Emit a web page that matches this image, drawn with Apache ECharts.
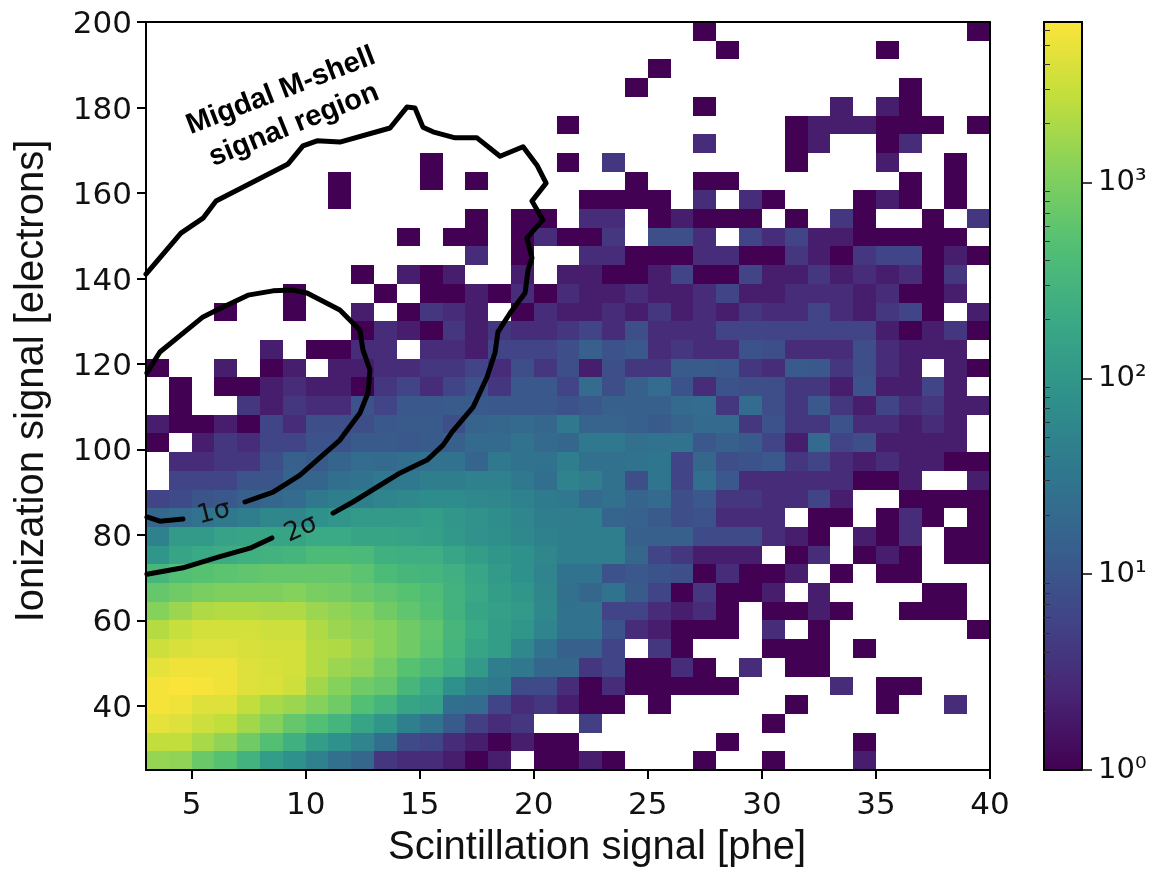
<!DOCTYPE html>
<html>
<head>
<meta charset="utf-8">
<style>html,body{margin:0;padding:0;background:#fff}#c{width:1159px;height:869px}</style>
<script src="https://cdn.jsdelivr.net/npm/echarts@6/dist/echarts.min.js"></script>
</head>
<body>
<div id="c"></div>
<script>
// counts per cell; row00 is the top row (y just under 200), 0 = empty cell
const row00=[0,0,0,0,0,0,0,0,0,0, 0,0,0,0,0,0,0,0,0,0, 0,0,0,0,1,0,0,0,0,0, 0,0,0,0,0,0,1];
const row01=[0,0,0,0,0,0,0,0,0,0, 0,0,0,0,0,0,0,0,0,0, 0,0,0,0,0,1,0,0,0,0, 0,0,1,0,0,0,0];
const row02=[0,0,0,0,0,0,0,0,0,0, 0,0,0,0,0,0,0,0,0,0, 0,0,1,0,0,0,0,0,0,0, 0,0,0,0,0,0,0];
const row03=[0,0,0,0,0,0,0,0,0,0, 0,0,0,0,0,0,0,0,0,0, 0,1,0,0,0,0,0,0,0,0, 0,0,0,1,0,0,0];
const row04=[0,0,0,0,0,0,0,0,0,0, 0,0,0,0,0,0,0,0,0,0, 0,0,0,0,1,0,0,0,0,0, 2,0,2,1,0,0,0];
const row05=[0,0,0,0,0,0,0,0,0,0, 0,0,0,0,0,0,0,0,1,0, 0,0,0,0,0,0,0,0,1,2, 2,2,1,1,1,0,1];
const row06=[0,0,0,0,0,0,0,0,0,0, 0,0,0,0,0,0,0,0,0,0, 0,0,0,0,3,0,0,0,1,2, 0,0,1,3,0,0,0];
const row07=[0,0,0,0,0,0,0,0,0,0, 0,0,1,0,0,0,0,0,1,0, 4,0,0,0,0,0,0,0,1,0, 0,0,2,0,0,1,0];
const row08=[0,0,0,0,0,0,0,0,1,0, 0,0,1,0,1,0,0,0,0,0, 0,1,0,0,1,1,0,0,0,0, 0,0,0,1,0,1,0];
const row09=[0,0,0,0,0,0,0,0,1,0, 0,0,0,0,0,0,0,0,0,1, 1,1,1,0,3,0,3,1,0,0, 0,1,2,1,0,1,0];
const row10=[0,0,0,0,0,0,0,0,0,0, 0,0,0,0,1,0,1,1,0,3, 3,0,1,2,1,1,1,0,1,0, 4,1,0,0,1,0,4];
const row11=[0,0,0,0,0,0,0,0,0,0, 0,1,0,1,1,0,1,3,1,1, 4,0,8,8,3,0,6,3,6,2, 2,1,1,1,1,1,0];
const row12=[0,0,0,0,0,0,0,0,0,0, 0,0,0,0,3,0,1,0,0,3, 3,1,1,1,3,3,1,1,4,2, 1,4,6,6,1,2,1];
const row13=[0,0,0,0,0,0,0,0,0,1, 0,2,1,2,0,0,2,0,2,2, 1,1,2,6,1,1,6,2,2,4, 2,3,2,3,1,4,0];
const row14=[0,0,0,0,0,0,1,0,0,0, 1,0,1,1,2,1,3,1,3,2, 2,3,2,2,3,6,2,2,3,3, 3,2,3,1,1,2,0];
const row15=[0,0,0,1,0,0,1,0,0,2, 0,1,4,3,2,0,1,3,2,2, 3,2,4,2,3,2,4,3,3,6, 3,2,4,6,1,0,2];
const row16=[0,0,0,0,0,0,0,0,0,1, 3,2,1,4,2,4,3,3,4,6, 3,8,3,3,3,6,6,6,6,6, 6,6,2,1,2,4,1];
const row17=[0,0,0,0,0,2,0,1,1,3, 3,0,3,3,2,6,6,6,8,14, 9,11,3,4,3,3,9,8,3,3, 3,8,3,2,2,2,0];
const row18=[1,0,0,2,0,1,2,0,2,2, 3,3,4,4,6,3,8,4,8,2, 8,4,4,12,12,11,4,3,12,11, 4,8,3,2,0,2,1];
const row19=[0,1,0,1,1,2,3,2,2,1, 4,6,3,6,9,4,11,11,6,22, 8,14,22,9,3,9,8,8,4,4, 2,9,2,2,6,2,0];
const row20=[0,1,0,0,4,2,4,3,3,9, 6,11,11,12,12,11,11,11,9,11, 14,14,14,20,22,4,22,8,4,11, 4,2,6,3,4,2,2];
const row21=[2,1,1,2,1,6,3,8,8,8, 11,12,12,8,16,18,20,18,34,16, 16,14,12,16,20,20,4,9,4,4, 9,3,3,2,3,2,0];
const row22=[1,0,2,4,3,6,6,9,9,12, 12,11,12,14,20,20,28,20,18,34, 34,25,28,28,11,14,12,6,2,20, 6,8,2,2,2,2,0];
const row23=[0,3,3,4,4,8,14,12,17,22, 20,24,28,28,17,34,28,28,41,26, 26,28,30,6,18,8,9,11,4,6, 3,2,3,2,2,1,1];
const row24=[0,6,6,6,10,10,17,17,24,28, 34,34,41,41,48,48,34,24,50,40, 26,8,30,6,24,11,3,3,3,3, 3,1,1,2,0,0,2];
const row25=[6,7,10,11,14,18,22,34,41,44, 52,62,68,68,62,57,48,37,34,20, 26,17,20,8,11,4,4,3,3,6, 2,0,0,1,1,1,1];
const row26=[18,22,28,34,41,57,57,81,97,115, 115,115,126,100,85,70,55,41,40,41, 17,15,12,8,9,3,3,3,0,1, 1,0,1,3,1,0,1];
const row27=[48,115,115,150,165,165,165,197,197,165, 165,150,138,105,85,75,62,48,41,41, 41,14,14,14,7,7,7,3,2,1, 0,2,1,3,0,1,1];
const row28=[97,165,197,215,257,280,305,397,397,364, 257,235,235,170,125,97,81,57,41,41, 41,18,6,4,2,2,2,0,1,3, 0,1,2,1,0,1,1];
const row29=[333,473,516,563,614,670,670,670,670,563, 397,333,305,250,170,115,81,52,28,28, 9,11,9,8,1,3,1,1,2,0, 1,0,1,1,0,0,0];
const row30=[670,797,950,1035,1035,1035,1130,950,870,731, 614,516,433,280,190,126,97,57,25,18, 28,12,6,1,4,1,1,2,0,2, 0,0,0,0,1,1,0];
const row31=[1130,1600,2080,2270,2270,2080,2080,1600,1346,1130, 797,614,473,280,165,138,115,62,28,28, 6,6,3,2,3,1,0,1,1,2, 1,0,0,1,1,1,0];
const row32=[2270,2980,3540,3540,3540,3240,3240,2080,1600,1346, 1130,797,614,333,197,126,97,52,28,28, 9,3,2,1,1,1,0,3,0,1, 0,0,0,0,0,0,1];
const row33=[3240,3860,4200,4200,3860,3540,3540,2270,2080,1600, 1130,797,563,305,165,126,62,28,14,14, 6,0,4,1,0,0,0,1,1,1, 0,1,0,0,0,0,0];
const row34=[4600,5500,5500,5300,4200,3860,3540,2270,1600,1346, 870,516,364,235,115,41,34,18,18,4, 6,1,1,3,1,0,3,0,1,1, 0,0,0,0,0,0,0];
const row35=[6000,6500,6200,5500,4200,4000,3240,1750,1130,797, 670,333,197,81,41,34,7,7,3,1, 3,1,1,1,1,1,0,0,0,0, 3,0,1,1,0,0,0];
const row36=[5980,5500,4200,4200,2730,1900,1600,1130,797,473, 305,165,138,24,22,6,3,4,2,1, 1,0,1,0,0,0,0,0,1,0, 0,0,1,0,0,3,0];
const row37=[4600,4200,3240,2730,1750,1130,670,473,305,165, 97,44,28,12,5,3,4,0,0,5, 0,0,0,0,0,0,0,1,0,0, 0,0,0,0,0,0,0];
const row38=[2730,2730,1900,1346,797,473,257,126,81,52, 24,7,6,3,2,1,2,1,1,0, 0,0,0,0,0,1,0,0,0,0, 0,1,0,0,0,0,0];
const row39=[1450,1346,731,516,280,126,81,48,25,18, 4,3,3,2,1,2,0,1,1,2, 1,0,0,0,1,0,0,1,0,0, 0,2,0,0,0,0,0];
const rows=[row00,row01,row02,row03,row04,row05,row06,row07,row08,row09,row10,row11,row12,row13,row14,row15,row16,row17,row18,row19,row20,row21,row22,row23,row24,row25,row26,row27,row28,row29,row30,row31,row32,row33,row34,row35,row36,row37,row38,row39];

const xMin=3, xMax=40, yMin=25, yMax=200, countMax=6600;
const xTicks=[5,10,15,20,25,30,35,40];
const yTicks=[40,60,80,100,120,140,160,180,200];
const cbMajor=[1,10,100,1000];
const cbMajorLabels=['10⁰','10¹','10²','10³'];
const cbMinor=[2,3,4,5,6,7,8,9,20,30,40,50,60,70,80,90,200,300,400,500,600,700,800,900,2000,3000,4000,5000,6000];
const viridis=['#420152','#482475','#414487','#37608d','#2f788e','#2f918b','#3aa985','#52bf75','#84d15c','#c2de3c','#fbe43a'];

// contours [scintillation, ionization]
const migdalUpper=[[3.0,141.0],[4.53,150.6],[5.5,154.1],[6.07,158.1],[9.23,166.8],[9.88,171.0],[10.5,172.2],[11.5,171.9],[13.7,175.2],[14.44,180.1],[14.79,179.9],[15.14,175.4],[15.58,174.3],[16.55,172.9],[17.51,172.9],[18.52,168.6],[19.53,170.8],[20.14,166.5],[20.54,162.3],[19.92,158.1],[20.4,153.7],[19.7,149.5],[19.92,144.8],[19.75,142.0],[19.62,136.6],[18.96,131.9],[18.43,127.5],[18.3,122.6],[17.95,116.9],[17.34,109.9],[16.42,104.1],[16.02,101.0],[15.32,97.5],[14.14,94.5],[12.07,87.7],[11.2,85.1]];
const migdalLower=[[8.52,79.3],[7.56,76.9],[6.16,74.8],[4.62,72.3],[3.04,70.8]];
const sigmaUpper=[[3.04,117.9],[3.61,122.8],[5.5,131.0],[6.11,132.6],[7.47,136.1],[8.57,137.1],[9.44,137.3],[10.06,136.6],[11.5,132.6],[12.38,127.9],[12.51,123.3],[12.82,118.6],[12.73,113.2],[12.38,108.5],[11.5,102.2],[9.75,94.0],[8.57,90.0],[7.34,87.7]];
const sigmaLower=[[4.62,83.7],[3.61,83.2],[3.04,84.2]];

const cells=[];
const dx=(xMax-xMin)/row00.length, dy=(yMax-yMin)/rows.length;
rows.forEach((row,r)=>row.forEach((v,c)=>{
  if(v>0) cells.push([xMin+c*dx,xMin+(c+1)*dx,yMax-(r+1)*dy,yMax-r*dy,Math.log10(v)]);
}));
const lg=v=>Math.log10(v);
const black='#000';
const tickFont={color:'#111',fontFamily:'DejaVu Sans',fontSize:31};
const cbFont={color:'#111',fontFamily:'DejaVu Sans',fontSize:29};
const frameX=(gridIndex,position,min,max)=>({type:'value',gridIndex,position,min,max,z:10,axisLine:{show:true,onZero:false,lineStyle:{color:black,width:2}},axisTick:{show:false},axisLabel:{show:false},splitLine:{show:false}});
const contour=data=>({type:'line',xAxisIndex:0,yAxisIndex:0,data,showSymbol:false,smooth:false,z:5,animation:false,lineStyle:{color:'#000',width:5,cap:'round',join:'round'},silent:true});

const chart=echarts.init(document.getElementById('c'),null,{renderer:'canvas'});
chart.setOption({
  animation:false,
  backgroundColor:'#fff',
  grid:[
    {left:146,top:22,width:844,height:748,outerBoundsMode:'none'},
    {left:1044,top:22,width:38,height:748,outerBoundsMode:'none'}
  ],
  visualMap:{show:false,seriesIndex:0,dimension:4,min:0,max:lg(countMax),inRange:{color:viridis}},
  xAxis:[
    Object.assign(frameX(0,'bottom',xMin,xMax),{
      axisTick:{show:true,customValues:xTicks,length:9,lineStyle:{color:black,width:2}},
      axisLabel:Object.assign({show:true,customValues:xTicks,margin:20},tickFont),
      name:'Scintillation signal [phe]',nameLocation:'middle',nameGap:58,
      nameTextStyle:{color:'#111',fontFamily:'Liberation Sans',fontSize:40,padding:[0,0,0,58]}
    }),
    frameX(0,'top',xMin,xMax),
    frameX(1,'bottom',0,1),
    frameX(1,'top',0,1)
  ],
  yAxis:[
    Object.assign(frameX(0,'left',yMin,yMax),{
      axisTick:{show:true,customValues:yTicks,length:9,lineStyle:{color:black,width:2}},
      axisLabel:{show:true,customValues:yTicks,margin:14,formatter:v=>`{a|${v}}`,rich:{a:Object.assign({padding:[6,0,0,0]},tickFont)}},
      name:'Ionization signal [electrons]',nameLocation:'middle',nameGap:94,
      nameTextStyle:{color:'#111',fontFamily:'Liberation Sans',fontSize:40,padding:[0,0,0,30]}
    }),
    frameX(0,'right',yMin,yMax),
    Object.assign(frameX(1,'right',0,lg(countMax)),{
      axisTick:{show:true,customValues:cbMajor.map(lg),length:10,lineStyle:{color:black,width:1.5}},
      axisLabel:Object.assign({show:true,customValues:cbMajor.map(lg),margin:16,
        formatter:v=>cbMajorLabels[Math.round(v)]},cbFont)
    }),
    Object.assign(frameX(1,'right',0,lg(countMax)),{
      axisLine:{show:false},
      axisTick:{show:true,customValues:cbMinor.map(lg),length:6,lineStyle:{color:'#333',width:1}}
    }),
    frameX(1,'left',0,lg(countMax))
  ],
  series:[
    {
      type:'custom',xAxisIndex:0,yAxisIndex:0,z:2,silent:true,animation:false,
      encode:{x:[0,1],y:[2,3]},data:cells,clip:true,
      renderItem:(p,api)=>{
        const a=api.coord([api.value(0),api.value(3)]), b=api.coord([api.value(1),api.value(2)]);
        const x0=Math.round(a[0]),y0=Math.round(a[1]),x1=Math.round(b[0]),y1=Math.round(b[1]);
        return {type:'rect',shape:{x:x0,y:y0,width:x1-x0,height:y1-y0},style:{fill:api.visual('color')}};
      }
    },
    contour(migdalUpper),contour(migdalLower),contour(sigmaUpper),contour(sigmaLower),
    {
      type:'custom',xAxisIndex:2,yAxisIndex:2,z:2,silent:true,animation:false,
      encode:{x:0,y:1},data:[[0,0]],
      renderItem:(p,api)=>{
        const a=api.coord([0,lg(countMax)]), b=api.coord([1,0]);
        const colorStops=viridis.map((color,i)=>({offset:1-i/(viridis.length-1),color}));
        return {type:'rect',shape:{x:a[0],y:a[1],width:b[0]-a[0],height:b[1]-a[1]},
          style:{fill:new echarts.graphic.LinearGradient(0,0,0,1,colorStops)}};
      }
    }
  ],
  graphic:[
    {type:'text',x:281,y:91,rotation:21*Math.PI/180,z:20,style:{text:'Migdal M-shell',fill:'#000',font:'bold 29px "Liberation Sans"',align:'center',verticalAlign:'middle'}},
    {type:'text',x:294,y:125,rotation:22*Math.PI/180,z:20,style:{text:'signal region',fill:'#000',font:'bold 29px "Liberation Sans"',align:'center',verticalAlign:'middle'}},
    {type:'text',x:214,y:513,rotation:14*Math.PI/180,z:20,style:{text:'1σ',fill:'#111',font:'26px "DejaVu Sans"',align:'center',verticalAlign:'middle'}},
    {type:'text',x:301,y:529,rotation:24*Math.PI/180,z:20,style:{text:'2σ',fill:'#111',font:'26px "DejaVu Sans"',align:'center',verticalAlign:'middle'}}
  ]
});
</script>
</body>
</html>
